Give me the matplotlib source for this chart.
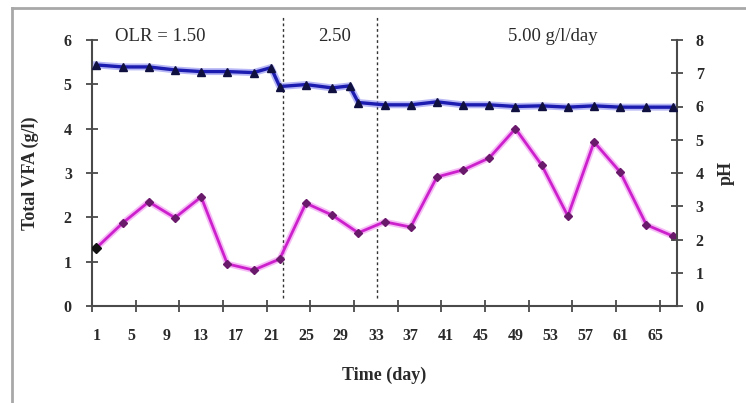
import matplotlib
matplotlib.use("Agg")
import matplotlib.pyplot as plt
from matplotlib.lines import Line2D
import numpy as np

plt.rcParams['font.family'] = ['Liberation Serif', 'DejaVu Serif']

# ---- data ----
vfa_days = [1, 4, 7, 10, 13, 16, 19, 22, 25, 28, 31, 34, 37, 40, 43, 46, 49, 52, 55, 58, 61, 64, 67]
vfa_vals = [1.31, 1.87, 2.35, 1.99, 2.46, 0.95, 0.81, 1.06, 2.32, 2.05, 1.65, 1.90, 1.78,
            2.91, 3.07, 3.34, 4.00, 3.18, 2.03, 3.70, 3.02, 1.83, 1.58]

ph_days = [1, 4, 7, 10, 13, 16, 19, 21, 22, 25, 28, 30, 31, 34, 37, 40, 43, 46, 49, 52, 55, 58, 61, 64, 67]
ph_vals = [7.25, 7.19, 7.19, 7.10, 7.05, 7.05, 7.02, 7.17, 6.60, 6.66, 6.56, 6.62, 6.12,
           6.05, 6.05, 6.14, 6.05, 6.05, 6.00, 6.02, 5.98, 6.02, 5.98, 5.98, 5.98]

xtick_labels = [1, 5, 9, 13, 17, 21, 25, 29, 33, 37, 41, 45, 49, 53, 57, 61, 65]
olr_change_days = [22.4, 33.1]
olr_labels = ["OLR = 1.50", "2.50", "5.00 g/l/day"]
olr_label_days = [8.3, 28.3, 53.3]

# ---- figure ----
fig = plt.figure(figsize=(7.46, 4.03), dpi=100)
ax = fig.add_axes([92/746, 1 - 306/403, (677-92)/746, (306-40)/403])
ax2 = ax.twinx()

axis_col = '#4a4a4a'
txt_col = '#2a2a2a'

# VFA (left axis)
ax.plot(vfa_days, vfa_vals, color='#f090f0', lw=4.5, alpha=0.6, zorder=2, solid_joinstyle='round')
ax.plot(vfa_days, vfa_vals, color='#cc20cc', lw=2.0, zorder=3, solid_joinstyle='round')
ax.plot(vfa_days[1:], vfa_vals[1:], ls='none', marker='D', ms=4.5, color='#6a1a6a', zorder=4)
ax.plot(vfa_days[:1], vfa_vals[:1], ls='none', marker='D', ms=5, color='#111111', zorder=4)

# pH (right axis)
ax2.plot(ph_days, ph_vals, color='#8a8af0', lw=5, alpha=0.6, zorder=2, solid_joinstyle='round')
ax2.plot(ph_days, ph_vals, color='#1c1cb0', lw=2.4, zorder=3, solid_joinstyle='round')
ax2.plot(ph_days, ph_vals, ls='none', marker='^', ms=6, color='#101040', zorder=4)

ax.set_xlim(0.5, 67.5)
ax.set_ylim(0, 6)
ax2.set_ylim(0, 8)

tick_font = dict(fontsize=11.5, fontweight='bold')

# x ticks: labels without marks, marks at category boundaries every 5
ax.set_xticks(xtick_labels)
ax.set_xticklabels([str(v) for v in xtick_labels], **tick_font)
ax.tick_params(axis='x', length=0, pad=16, colors=txt_col)
ax.set_xticks(np.arange(0.5, 67, 5), minor=True)
ax.tick_params(axis='x', which='minor', direction='inout', length=9, width=1.3, color=axis_col)

ax.set_yticks(range(0, 7))
ax.set_yticklabels([str(v) for v in range(0, 7)], **tick_font)
ax.tick_params(axis='y', direction='inout', length=9, width=1.3, color=axis_col, labelcolor=txt_col, pad=10)
ax2.set_yticks(range(0, 9))
ax2.set_yticklabels([str(v) for v in range(0, 9)], **tick_font)
ax2.tick_params(axis='y', direction='inout', length=9, width=1.3, color=axis_col, labelcolor=txt_col, pad=9)

for a in (ax, ax2):
    a.spines['top'].set_visible(False)
    for s in ('left', 'right', 'bottom'):
        a.spines[s].set_color(axis_col)
        a.spines[s].set_linewidth(1.5)
ax.spines['right'].set_visible(False)
ax2.spines['left'].set_visible(False)
ax2.spines['bottom'].set_visible(False)

ax.set_ylabel("Total VFA (g/l)", fontsize=13, fontweight='bold', color=txt_col, labelpad=18)
ax2.set_ylabel("pH", fontsize=13, fontweight='bold', color=txt_col, labelpad=10)
ax.set_xlabel("Time (day)", fontsize=13, fontweight='bold', color=txt_col, labelpad=16)

# OLR separators
for d in olr_change_days:
    ax.axvline(d, ymin=0.03, ymax=1.094, color='#333333', lw=1.0, ls=(0, (2, 2)), clip_on=False, zorder=1)
for t, d in zip(olr_labels, olr_label_days):
    ax.text(d, 6.07, t, ha='center', va='center', fontsize=13.5, color=txt_col)

# outer frame (left and top edges)
fig.add_artist(Line2D([12/746, 12/746], [0, 1 - 8/403], transform=fig.transFigure, color='#a8a8a8', lw=2))
fig.add_artist(Line2D([12/746, 1], [1 - 8/403, 1 - 8/403], transform=fig.transFigure, color='#a8a8a8', lw=2))

fig.savefig("out.png", dpi=100)
